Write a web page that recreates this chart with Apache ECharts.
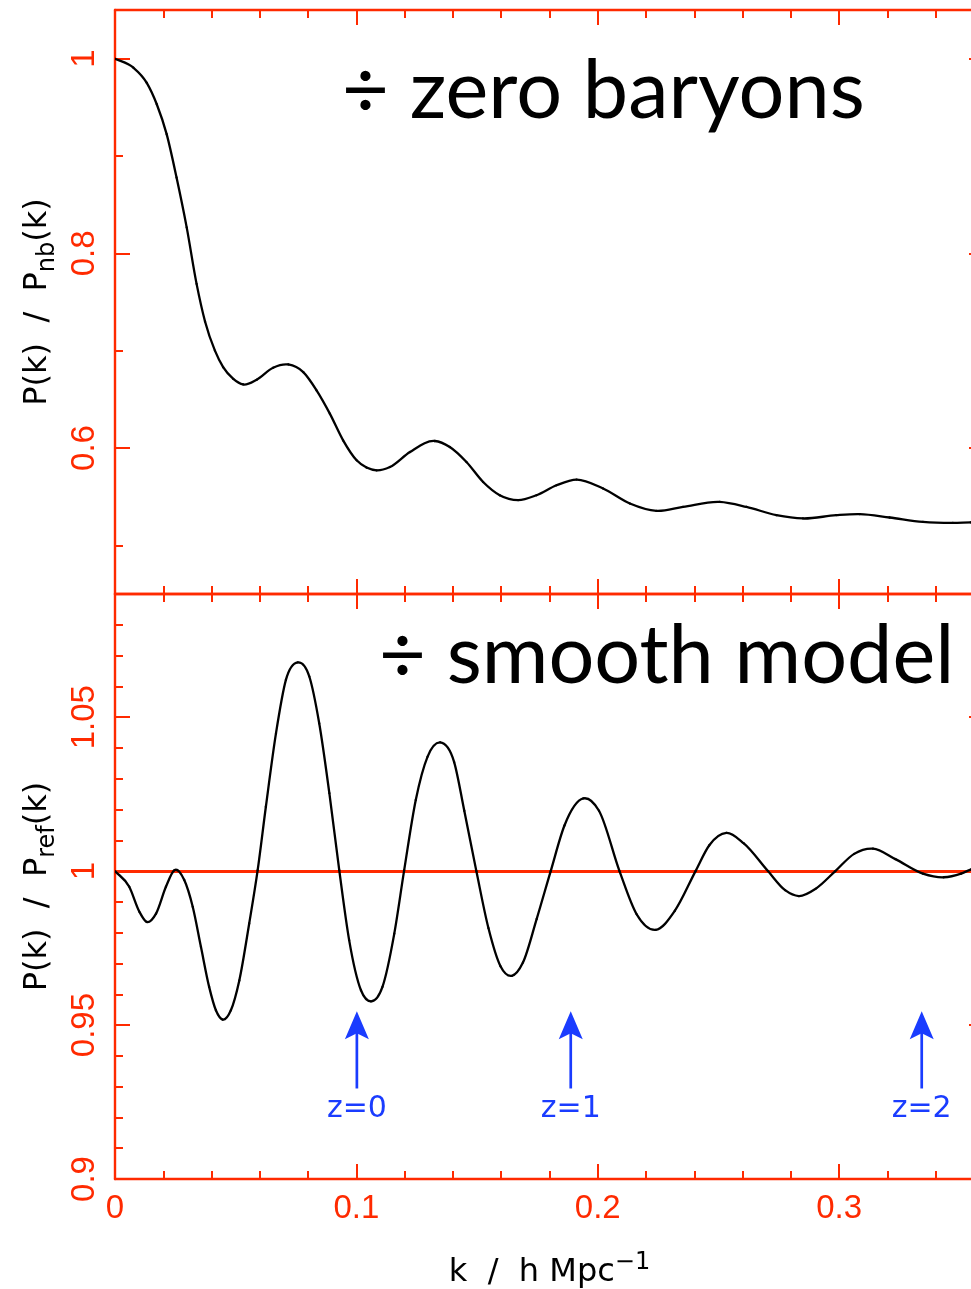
<!DOCTYPE html>
<html>
<head>
<meta charset="utf-8">
<title>BAO in the matter power spectrum</title>
<script src="https://cdn.jsdelivr.net/npm/echarts@6/dist/echarts.min.js"></script>
<style>
  html, body { margin: 0; padding: 0; background: #ffffff; }
  #chart { width: 971px; height: 1289px; }
</style>
</head>
<body>
<div id="chart"></div>
<script>
// Wavenumber k (h/Mpc) and P(k)/P_nb(k): spectrum divided by the zero-baryon spectrum
const kNoBaryon = [0, 0.0076, 0.0131, 0.0173, 0.0214, 0.0255, 0.0297, 0.0338, 0.0373, 0.0414,
  0.0448, 0.0490, 0.0531, 0.0587, 0.0655, 0.0718, 0.0780, 0.0835, 0.0890, 0.0945,
  0.1001, 0.1042, 0.1084, 0.1139, 0.1222, 0.1325, 0.1387, 0.1456, 0.1525, 0.1594,
  0.1670, 0.1746, 0.1829, 0.1912, 0.2022, 0.2133, 0.2243, 0.2353, 0.2505, 0.2616,
  0.2740, 0.2850, 0.2988, 0.3085, 0.3209, 0.3347, 0.3471, 0.3545, 0.3600];
const ratioNoBaryon = [1.000, 0.9908, 0.9754, 0.9532, 0.9225, 0.8779, 0.8267, 0.7686, 0.7300, 0.7000,
  0.6830, 0.6710, 0.6653, 0.6702, 0.6825, 0.6858, 0.6779, 0.6592, 0.6353, 0.6079,
  0.5874, 0.5799, 0.5771, 0.5805, 0.5959, 0.6072, 0.6010, 0.5856, 0.5651, 0.5515,
  0.5464, 0.5515, 0.5617, 0.5676, 0.5584, 0.5430, 0.5354, 0.5395, 0.5446, 0.5395,
  0.5310, 0.5276, 0.5310, 0.5320, 0.5286, 0.5241, 0.5231, 0.5235, 0.5236];

// P(k)/P_ref(k): spectrum divided by the smooth (no-wiggle) model
const kSmooth = [0, 0.0059, 0.0101, 0.0131, 0.0170, 0.0211, 0.0246, 0.0287, 0.0322, 0.0356,
  0.0390, 0.0418, 0.0446, 0.0480, 0.0515, 0.0556, 0.0591, 0.0625, 0.0667, 0.0708,
  0.0757, 0.0805, 0.0846, 0.0888, 0.0929, 0.0970, 0.1019, 0.1060, 0.1108, 0.1157,
  0.1198, 0.1246, 0.1295, 0.1347, 0.1405, 0.1447, 0.1497, 0.1547, 0.1597, 0.1644,
  0.1690, 0.1747, 0.1805, 0.1862, 0.1940, 0.2005, 0.2090, 0.2161, 0.2240, 0.2319,
  0.2405, 0.2462, 0.2533, 0.2605, 0.2705, 0.2776, 0.2833, 0.2905, 0.2984, 0.3062,
  0.3140, 0.3233, 0.3347, 0.3433, 0.3505, 0.3545, 0.3600];
const ratioSmooth = [1.0000, 0.9949, 0.9868, 0.9835, 0.9862, 0.9949, 1.0003, 0.9971, 0.9884, 0.9754,
  0.9624, 0.9548, 0.9518, 0.9548, 0.9645, 0.9830, 1.0003, 1.0209, 1.0448, 1.0621,
  1.0678, 1.0632, 1.0480, 1.0253, 1.0003, 0.9776, 0.9613, 0.9577, 0.9624, 0.9797,
  1.0003, 1.0231, 1.0372, 1.0418, 1.0354, 1.0196, 1.0000, 0.9815, 0.9691, 0.9660,
  0.9703, 0.9845, 1.0000, 1.0148, 1.0236, 1.0196, 1.0000, 0.9860, 0.9809, 0.9871,
  1.0000, 1.0084, 1.0124, 1.0090, 1.0000, 0.9938, 0.9919, 0.9944, 1.0000, 1.0056,
  1.0073, 1.0039, 0.9992, 0.9980, 0.9992, 1.0005, 1.0015];

// Reference level for the lower panel
const smoothLevel = 1.0;

// Survey redshift markers: k position, labels, and the arrow's extent in ratio units
const markerK = [0.1002, 0.1888, 0.3342];
const markerLabels = ['z=0', 'z=1', 'z=2'];
const markerTail = 0.9294;
const markerTip = 0.9545;
const markerTextLevel = 0.9226;

// Axis ranges and ticks
const xRange = [0, 0.36];
const xMajorTicks = [0, 0.1, 0.2, 0.3];
const xMinorTicks = [0.02, 0.04, 0.06, 0.08, 0.12, 0.14, 0.16, 0.18, 0.22, 0.24, 0.26, 0.28, 0.32, 0.34];
const topRange = [0.45, 1.05];
const topMajorTicks = [0.6, 0.8, 1.0];
const topMinorTicks = [0.5, 0.7, 0.9];
const bottomRange = [0.9, 1.09];
const bottomMajorTicks = [0.9, 0.95, 1.0, 1.05];
const bottomMinorTicks = [0.91, 0.92, 0.93, 0.94, 0.96, 0.97, 0.98, 0.99, 1.01, 1.02, 1.03, 1.04, 1.06, 1.07, 1.08];

const RED = '#ff2a00';
const BLUE = '#1a3cff';
const TICK_FONT = '"Liberation Sans", Arial, sans-serif';
const TEXT_FONT = '"DejaVu Sans", sans-serif';
const TITLE_FONT = 'Lato, "Open Sans", sans-serif';

const fmt = v => String(Math.round(v * 1000) / 1000);

const titleRich = {
  t: { fontFamily: TEXT_FONT, fontSize: 32, color: '#000', lineHeight: 44 },
  sub: { fontFamily: TEXT_FONT, fontSize: 24, color: '#000', lineHeight: 22, verticalAlign: 'bottom' },
  sup: { fontFamily: TEXT_FONT, fontSize: 24, color: '#000', lineHeight: 22, verticalAlign: 'top' }
};

const frameLine = { show: true, onZero: false, lineStyle: { color: RED, width: 2.4 } };
const noLine = { show: false, onZero: false };
const tickStyle = { color: RED, width: 2 };

function xAxesFor(grid, withLabels) {
  const base = { gridIndex: grid, type: 'value', min: xRange[0], max: xRange[1], splitLine: { show: false } };
  const major = {
    ...base, position: 'bottom', axisLine: frameLine,
    axisTick: { show: true, inside: true, length: 15, customValues: xMajorTicks, lineStyle: tickStyle },
    axisLabel: withLabels
      ? { show: true, customValues: xMajorTicks, formatter: fmt, color: RED, fontFamily: TICK_FONT, fontSize: 33, margin: 13 }
      : { show: false }
  };
  if (withLabels) {
    Object.assign(major, {
      name: '{t|k  /  h Mpc}{sup|−1}',
      nameLocation: 'middle', nameGap: 72,
      nameTextStyle: { rich: titleRich }
    });
  }
  return [
    major,
    { ...base, position: 'bottom', axisLine: noLine, axisLabel: { show: false },
      axisTick: { show: true, inside: true, length: 8, customValues: xMinorTicks, lineStyle: tickStyle } },
    { ...base, position: 'top', axisLine: frameLine, axisLabel: { show: false },
      axisTick: { show: true, inside: true, length: 15, customValues: xMajorTicks, lineStyle: tickStyle } },
    { ...base, position: 'top', axisLine: noLine, axisLabel: { show: false },
      axisTick: { show: true, inside: true, length: 8, customValues: xMinorTicks, lineStyle: tickStyle } }
  ];
}

function yAxesFor(grid, range, majors, minors, title) {
  const base = { gridIndex: grid, type: 'value', min: range[0], max: range[1], splitLine: { show: false } };
  return [
    { ...base, position: 'left', axisLine: frameLine,
      axisTick: { show: true, inside: true, length: 15, customValues: majors, lineStyle: tickStyle },
      axisLabel: { show: true, customValues: majors, formatter: fmt, rotate: 90, color: RED,
                   fontFamily: TICK_FONT, fontSize: 33, margin: 14 },
      name: title, nameLocation: 'middle', nameRotate: 90, nameGap: 52,
      nameTextStyle: { rich: titleRich } },
    { ...base, position: 'left', axisLine: noLine, axisLabel: { show: false },
      axisTick: { show: true, inside: true, length: 8, customValues: minors, lineStyle: tickStyle } },
    { ...base, position: 'right', axisLine: frameLine, axisLabel: { show: false },
      axisTick: { show: true, inside: true, length: 15, customValues: majors, lineStyle: tickStyle } },
    { ...base, position: 'right', axisLine: noLine, axisLabel: { show: false },
      axisTick: { show: true, inside: true, length: 8, customValues: minors, lineStyle: tickStyle } }
  ];
}

const pairs = (xs, ys) => xs.map((x, i) => [x, ys[i]]);

// Each data item draws the cubic Hermite piece from point i to point i+1,
// with tangents from the neighbouring points (non-uniform three-point slope).
function curveSegments(ks, vs) {
  return function (params, api) {
    const i = params.dataIndex;
    const n = ks.length;
    if (i >= n - 1) return null;
    const pt = j => (j >= 0 && j < n) ? api.coord([ks[j], vs[j]]) : null;
    const prev = pt(i - 1), a = pt(i), b = pt(i + 1), next = pt(i + 2);
    const slope = (p, q) => (q[1] - p[1]) / (q[0] - p[0]);
    const tangent = (p, c, q) => {
      if (!p) return slope(c, q);
      if (!q) return slope(p, c);
      const h0 = c[0] - p[0], h1 = q[0] - c[0];
      return (slope(p, c) * h1 + slope(c, q) * h0) / (h0 + h1);
    };
    const m0 = tangent(prev, a, b);
    const m1 = tangent(a, b, next);
    const h = (b[0] - a[0]) / 3;
    return {
      type: 'bezierCurve',
      shape: {
        x1: a[0], y1: a[1], x2: b[0], y2: b[1],
        cpx1: a[0] + h, cpy1: a[1] + m0 * h,
        cpx2: b[0] - h, cpy2: b[1] - m1 * h
      },
      style: { stroke: '#000', fill: 'none', lineWidth: 2.3, lineCap: 'round' }
    };
  };
}

const chart = echarts.init(document.getElementById('chart'), null, { renderer: 'canvas' });

chart.setOption({
  animation: false,
  backgroundColor: '#ffffff',
  grid: [
    { left: 115, top: 10, width: 869, height: 584, outerBoundsMode: 'none', containLabel: false },
    { left: 115, top: 594, width: 869, height: 585, outerBoundsMode: 'none', containLabel: false }
  ],
  xAxis: [...xAxesFor(0, false), ...xAxesFor(1, true)],
  yAxis: [
    ...yAxesFor(0, topRange, topMajorTicks, topMinorTicks, '{t|P(k)  /  P}{sub|nb}{t|(k)}'),
    ...yAxesFor(1, bottomRange, bottomMajorTicks, bottomMinorTicks, '{t|P(k)  /  P}{sub|ref}{t|(k)}')
  ],
  graphic: [
    { type: 'text', left: 342, top: 51, z: 10,
      style: { text: '÷ zero baryons', font: '81px ' + TITLE_FONT, fill: '#000' } },
    { type: 'text', left: 379, top: 616, z: 10,
      style: { text: '÷ smooth model', font: '81px ' + TITLE_FONT, fill: '#000' } }
  ],
  series: [
    {
      name: 'no baryons', type: 'custom', xAxisIndex: 0, yAxisIndex: 0, z: 3, clip: true,
      data: pairs(kNoBaryon, ratioNoBaryon),
      encode: { x: 0, y: 1 },
      renderItem: curveSegments(kNoBaryon, ratioNoBaryon)
    },
    {
      name: 'reference level', type: 'line', xAxisIndex: 4, yAxisIndex: 4,
      data: [], z: 2,
      markLine: {
        silent: true, symbol: 'none', z: 2,
        label: { show: false },
        lineStyle: { color: RED, width: 2.8, type: 'solid' },
        data: [{ yAxis: smoothLevel }]
      }
    },
    {
      name: 'smooth model', type: 'custom', xAxisIndex: 4, yAxisIndex: 4, z: 3, clip: true,
      data: pairs(kSmooth, ratioSmooth),
      encode: { x: 0, y: 1 },
      renderItem: curveSegments(kSmooth, ratioSmooth)
    },
    {
      name: 'redshift markers', type: 'custom', xAxisIndex: 4, yAxisIndex: 4, z: 4,
      data: markerK.map(k => [k, markerTail, markerTip, markerTextLevel]),
      encode: { x: 0, y: [1, 2] },
      renderItem(params, api) {
        const k = api.value(0);
        const tail = api.coord([k, api.value(1)]);
        const tip = api.coord([k, api.value(2)]);
        const txt = api.coord([k, api.value(3)]);
        const headLen = 28, headHalf = 12, notch = 22;
        return {
          type: 'group',
          children: [
            { type: 'line',
              shape: { x1: tail[0], y1: tail[1], x2: tip[0], y2: tip[1] + notch - 2 },
              style: { stroke: BLUE, lineWidth: 2.7 } },
            { type: 'polygon',
              shape: { points: [[tip[0], tip[1]], [tip[0] + headHalf, tip[1] + headLen],
                                [tip[0], tip[1] + notch], [tip[0] - headHalf, tip[1] + headLen]] },
              style: { fill: BLUE } },
            { type: 'text', x: txt[0], y: txt[1],
              style: { text: markerLabels[params.dataIndex], fill: BLUE,
                       fontFamily: TEXT_FONT, fontSize: 30, align: 'center', verticalAlign: 'middle' } }
          ]
        };
      }
    }
  ]
});
</script>
</body>
</html>
